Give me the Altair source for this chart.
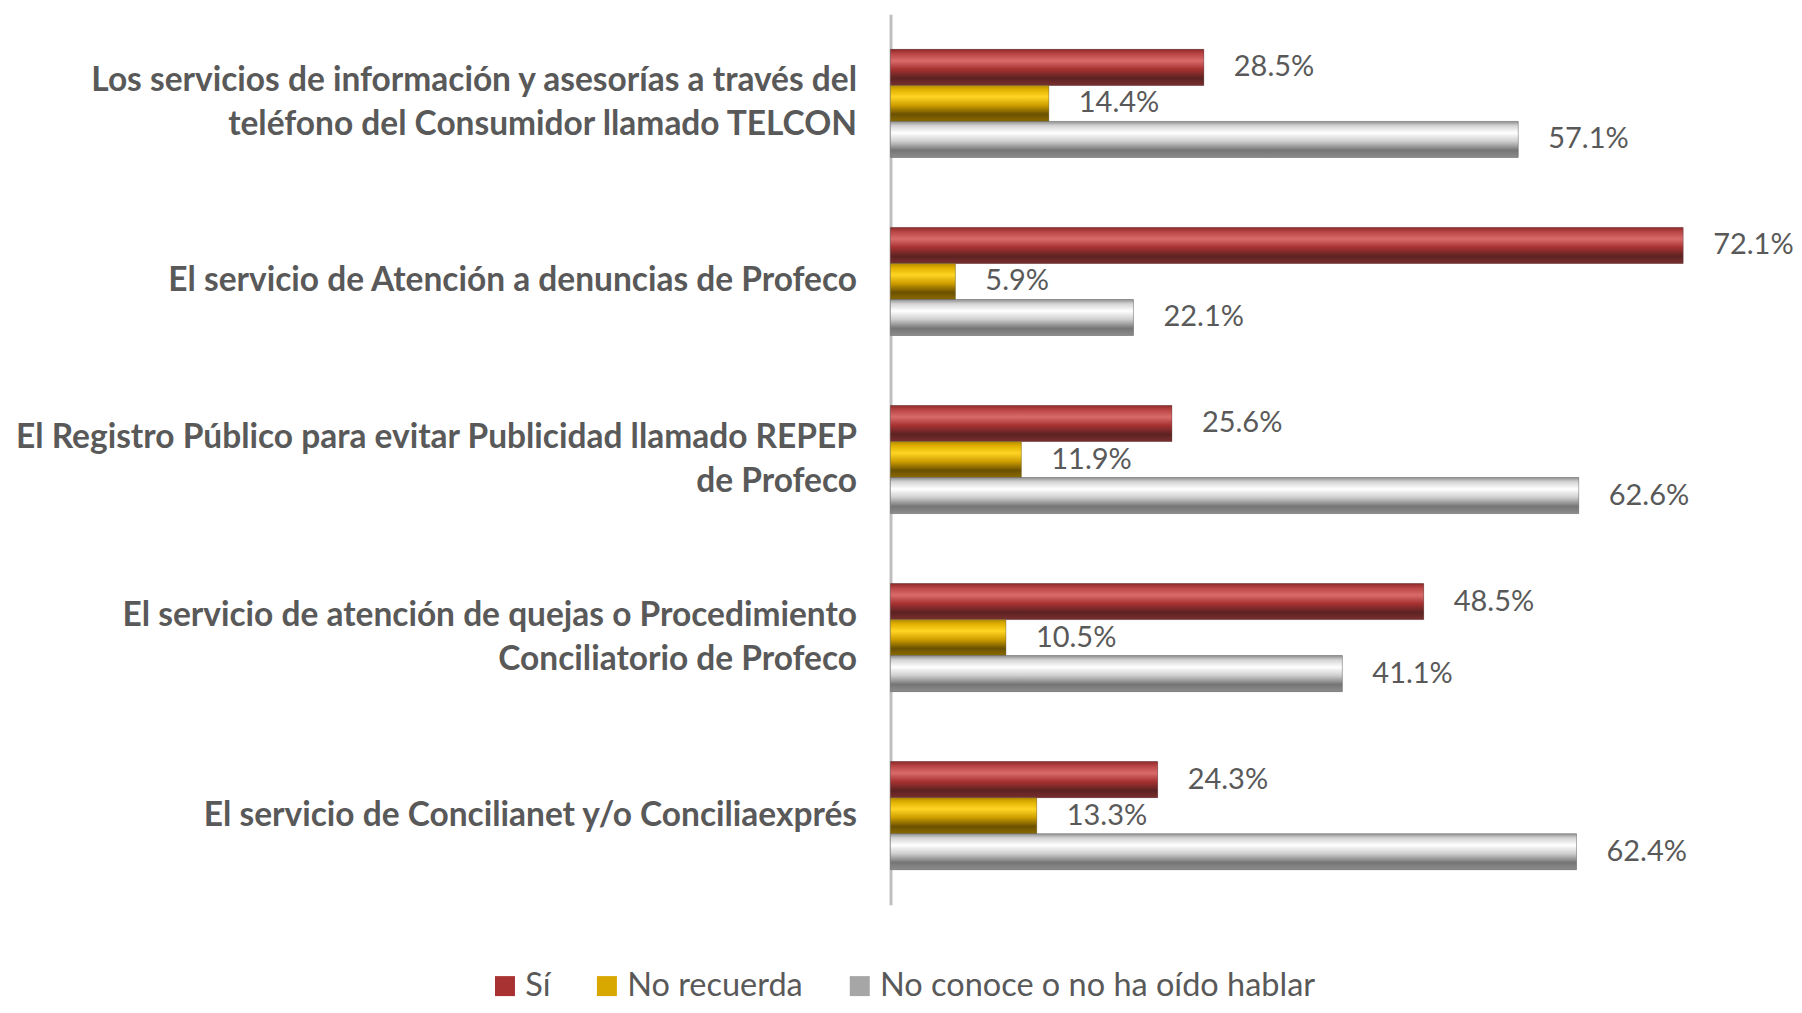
import altair as alt
import pandas as pd

categorias = [
    "Los servicios de información y asesorías a través del\nteléfono del Consumidor llamado TELCON",
    "El servicio de Atención a denuncias de Profeco",
    "El Registro Público para evitar Publicidad llamado REPEP\nde Profeco",
    "El servicio de atención de quejas o Procedimiento\nConciliatorio de Profeco",
    "El servicio de Concilianet y/o Conciliaexprés",
]
series = ["Sí", "No recuerda", "No conoce o no ha oído hablar"]
si = [28.5, 72.1, 25.6, 48.5, 24.3]
no_recuerda = [14.4, 5.9, 11.9, 10.5, 13.3]
no_conoce = [57.1, 22.1, 62.6, 41.1, 62.4]

solid = ["#a83232", "#d9a800", "#a6a6a6"]

rows = []
for i, c in enumerate(categorias):
    for s, vals in zip(series, [si, no_recuerda, no_conoce]):
        rows.append({"categoria": c, "serie": s, "valor": vals[i],
                     "etiqueta": f"{vals[i]:.1f}%"})
df = pd.DataFrame(rows)

FONT = "Lato"
GRAY = "#595959"

y = alt.Y(
    "categoria:N", sort=categorias,
    scale=alt.Scale(paddingInner=0.393, paddingOuter=0.197),
    axis=alt.Axis(title=None, labelExpr="split(datum.label, '\\n')",
                  labelFont=FONT, labelFontWeight="bold", labelFontSize=33.5,
                  labelColor=GRAY, labelLineHeight=44, labelPadding=34,
                  labelOffset={"condition": {"test": "indexof(datum.value, '\\n') >= 0",
                                             "value": -22},
                               "value": 0},
                  labelLimit=1200, ticks=False, domainColor="#bfbfbf",
                  domainWidth=3, labelAlign="right"),
)
x = alt.X("valor:Q", scale=alt.Scale(domain=[0, 80]), axis=None)
yoff = alt.YOffset("serie:N", sort=series,
                   scale=alt.Scale(domain=series, paddingInner=0, paddingOuter=0))


def grad(stops):
    return alt.Gradient(gradient="linear", x1=0, y1=0, x2=0, y2=1,
                        stops=[alt.GradientStop(offset=o, color=c) for o, c in stops])


gradients = {
    "Sí": grad([(0, "#8e2a2a"), (0.12, "#b94444"), (0.32, "#d96b6b"),
                (0.55, "#a83232"), (0.8, "#5c2222"), (1, "#7a2e2e")]),
    "No recuerda": grad([(0, "#b38a00"), (0.12, "#e0b000"), (0.32, "#ffd524"),
                         (0.55, "#cf9f00"), (0.8, "#6b5100"), (1, "#8a6a00")]),
    "No conoce o no ha oído hablar": grad([(0, "#8f8f8f"), (0.12, "#d4d4d4"), (0.32, "#ffffff"),
                                           (0.55, "#cfcfcf"), (0.8, "#757575"), (1, "#8c8c8c")]),
}

base = alt.Chart(df).mark_bar().encode(
    x=x, y=y, yOffset=yoff,
    color=alt.Color("serie:N", sort=series,
                    scale=alt.Scale(domain=series, range=solid),
                    legend=alt.Legend(orient="none", legendX=-402, legendY=956,
                                      direction="horizontal", title=None,
                                      symbolType="square", symbolSize=400,
                                      symbolStrokeWidth=0, labelLimit=1000,
                                      labelFont=FONT, labelFontSize=32.5,
                                      labelColor=GRAY, columnPadding=40,
                                      labelOffset=4)),
)

layers = [base]
for s in series:
    layers.append(
        alt.Chart(df).transform_filter(alt.datum.serie == s)
        .mark_bar(fill=gradients[s], stroke="#555555", strokeWidth=0.6, strokeOpacity=0.6)
        .encode(x=x, y=y, yOffset=yoff)
    )

text = alt.Chart(df).mark_text(align="left", baseline="middle", dx=30,
                               font=FONT, fontSize=29, color=GRAY).encode(
    x=x, y=y, yOffset=yoff, text="etiqueta:N")
layers.append(text)

chart = alt.layer(*layers).properties(
    width=880, height=891,
    autosize=alt.AutoSizeParams(type="none"),
    padding={"left": 883, "top": 6, "right": 24, "bottom": 100},
    background="white",
).configure_view(stroke=None)

chart.save("out.html", embed_options={"renderer": "svg", "actions": False})
